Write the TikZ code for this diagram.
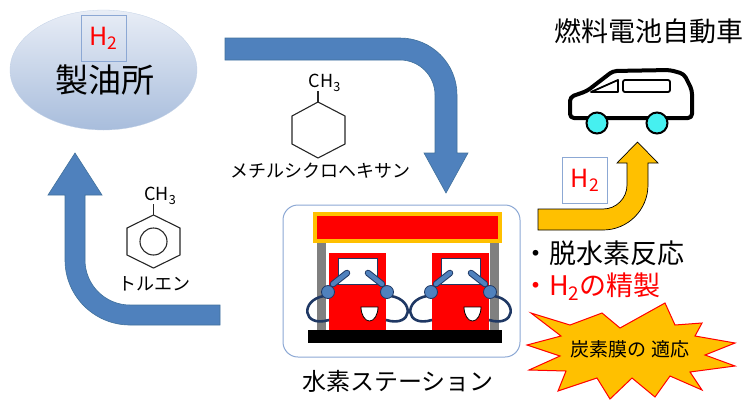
\documentclass[tikz,border=0pt]{standalone}
\usepackage{fontspec}
\newfontfamily\jp{Noto Sans CJK JP}
\usetikzlibrary{shapes.geometric}

\definecolor{refTop}{RGB}{232,237,246}
\definecolor{refBot}{RGB}{168,189,220}
\definecolor{boxedge}{RGB}{140,168,212}
\definecolor{arrowblue}{RGB}{79,129,189}
\definecolor{arrowedge}{RGB}{65,113,156}
\definecolor{amber}{RGB}{255,192,0}
\definecolor{hose}{RGB}{31,56,100}
\definecolor{nozzle}{RGB}{79,129,189}
\definecolor{wheel}{RGB}{70,240,240}
\definecolor{pumpred}{RGB}{255,0,0}

\tikzset{
  fs/.style={inner sep=0pt, font=\jp\fontsize{#1}{#1}\selectfont},
  hbox/.style={draw=boxedge, line width=0.9pt, minimum width=45pt, minimum height=46pt,
               inner sep=0pt, text=red, font=\jp\fontsize{25}{25}\selectfont},
  bluearrow/.style={fill=arrowblue, draw=arrowedge, line width=0.6pt},
  yellowarrow/.style={fill=amber, draw=black, line width=0.7pt},
  bond/.style={draw=black!85, line width=1.1pt},
  hoseline/.style={draw=hose, line width=2.6pt},
  carline/.style={draw=black, line width=4pt, line join=round},
}

\begin{document}
\begin{tikzpicture}[x=1pt,y=-1pt]
\useasboundingbox (0,0) rectangle (749,400);

% ---------- refinery ----------
\node[ellipse, minimum width=187pt, minimum height=120pt, inner sep=0pt,
      top color=refTop, bottom color=refBot, draw=refBot!70!white, line width=0.3pt]
      (refinery) at (103.5,70) {};
\node[fs=33] (refname) at (105,80) {製油所};
\node[hbox] (h2ref) at (103.5,38) {H\textsubscript{2}};

% ---------- refinery -> station (methylcyclohexane) ----------
\path[bluearrow] (225,38) -- (400,38) arc[start angle=270, end angle=360, radius=57]
  -- (457,153) -- (468,153) -- (446,193) -- (424,153) -- (435,153) -- (435,95)
  arc[start angle=360, end angle=270, radius=35] -- (225,60) -- cycle;

\coordinate (mchTop) at (318,102);
\coordinate (mchMethyl) at (318,91);
\draw[bond] (mchTop) -- (345,116) -- (345,144) -- (318,158) -- (292,144) -- (292,116) -- cycle;
\draw[bond] (mchTop) -- (mchMethyl);
\node[fs=18, anchor=south west] (mchCH) at (308.5,91.5) {CH\textsubscript{3}};
\node[fs=18] (mchName) at (320,171) {メチルシクロヘキサン};

% ---------- station -> refinery (toluene) ----------
\path[bluearrow] (220,325) -- (130,325) arc[start angle=90, end angle=180, radius=65]
  -- (65,195) -- (48,195) -- (75,153) -- (102,195) -- (85,195) -- (85,260)
  arc[start angle=180, end angle=90, radius=45] -- (220,305) -- cycle;

\coordinate (tolTop) at (153.5,215);
\coordinate (tolMethyl) at (153.5,204);
\draw[bond] (tolTop) -- (180,228) -- (180,255) -- (153.5,268) -- (127,255) -- (127,228) -- cycle;
\draw[bond] (153.5,241.5) circle[radius=13.5];
\draw[bond] (tolTop) -- (tolMethyl);
\node[fs=18, anchor=south west] (tolCH) at (144,204.5) {CH\textsubscript{3}};
\node[fs=18] (tolName) at (154,284) {トルエン};

% ---------- hydrogen station ----------
\node[draw=boxedge, line width=1pt, rounded corners=15pt, minimum width=237pt,
      minimum height=152pt, inner sep=0pt] (station) at (401.5,281) {};
\node[fs=24] (stationName) at (398,381) {水素ステーション};

% canopy, posts and base
\fill[gray] (317,243) rectangle (326,330);
\fill[gray] (490,243) rectangle (499,330);
\draw[fill=pumpred, draw=amber, line width=3.5pt] (315,214) rectangle (500,241);
\fill[black] (308,330) rectangle (502,343);

% two dispensers
\foreach \dx in {0,103}{
  \begin{scope}[xshift=\dx]
    \fill[pumpred] (329,253) rectangle (386,330);
    \draw[fill=white, draw=hose, line width=0.7pt] (338,258) rectangle (377,284);
    % hoses
    \draw[hoseline] (324,296) .. controls (300,300) and (302,328) .. (329,320);
    \draw[hoseline] (391,296) .. controls (415,300) and (413,328) .. (386,320);
    % nozzles
    \draw[draw=hose, line width=6.5pt, line cap=round] (347,273) -- (333,284);
    \draw[draw=nozzle, line width=4.5pt, line cap=round] (347,273) -- (333,284);
    \draw[draw=hose, line width=6.5pt, line cap=round] (368,273) -- (382,284);
    \draw[draw=nozzle, line width=4.5pt, line cap=round] (368,273) -- (382,284);
    \draw[fill=nozzle, draw=hose, line width=0.8pt] (328,292) circle[radius=6.5];
    \draw[fill=nozzle, draw=hose, line width=0.8pt] (387,292) circle[radius=6.5];
    % meter window
    \draw[fill=white, draw=black, line width=0.8pt] (361,307) -- (378,307)
      arc[start angle=0, end angle=180, x radius=8.5, y radius=14] -- cycle;
  \end{scope}
}

% ---------- station -> fuel cell vehicle ----------
\path[yellowarrow] (538,209) -- (603,209) arc[start angle=90, end angle=0, radius=24]
  -- (627,163) -- (617,163) -- (637.5,142) -- (658,163) -- (648,163) -- (648,185)
  arc[start angle=0, end angle=90, radius=45] -- (538,230) -- cycle;
\node[hbox] (h2car) at (585,180) {H\textsubscript{2}};

% ---------- fuel cell vehicle ----------
\node[fs=27] (carName) at (649,31) {燃料電池自動車};
\draw[carline, fill=white, rounded corners=4pt] (600,118) -- (570,118) -- (570,97)
  -- (587,91) -- (613,71) -- (670,70) -- (684,74) -- (692,90) -- (692,118) -- cycle;
\draw[line width=1.8pt, line join=round] (591,92) -- (618,80) -- (618,92) -- cycle;
\draw[line width=1.8pt, rounded corners=2pt] (623,80) rectangle (670,92);
\draw[fill=wheel, draw=black, line width=2pt] (597,123) circle[radius=10.5];
\draw[fill=wheel, draw=black, line width=2pt] (657,123) circle[radius=10.5];

% ---------- notes ----------
\node[fs=27, anchor=west] (noteA) at (522,253) {・脱水素反応};
\node[fs=27, anchor=west, text=red] (noteB) at (522,287) {・H\textsubscript{2}の精製};

% ---------- carbon membrane burst ----------
\draw[fill=amber, draw=red, line width=1pt, line join=miter]
  (531,313) -- (570,325) -- (602,313) -- (620,328) -- (665,303) -- (675,325)
  -- (702,323) -- (695,336) -- (735,343) -- (705,355) -- (735,366) -- (690,372)
  -- (702,390) -- (670,376) -- (655,397) -- (632,378) -- (610,399) -- (597,378)
  -- (558,391) -- (566,371) -- (529,370) -- (560,356) -- (527,345) -- (561,336) -- cycle;
\node[fs=19] (membrane) at (630,349) {炭素膜の 適応};

\end{tikzpicture}
\end{document}
